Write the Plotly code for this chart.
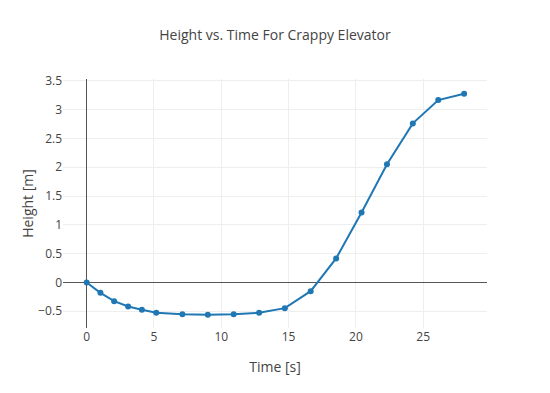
import plotly.graph_objects as go

time_s = [0, 1.02, 2.04, 3.08, 4.1, 5.17, 7.11, 9.0, 10.92, 12.81, 14.72, 16.64, 18.53, 20.42, 22.31, 24.23, 26.12, 28.04]
height_m = [0, -0.18, -0.325, -0.417, -0.475, -0.527, -0.55, -0.562, -0.55, -0.527, -0.446, -0.151, 0.417, 1.215, 2.05, 2.76, 3.165, 3.275]

fig = go.Figure(go.Scatter(
    x=time_s, y=height_m, mode="lines+markers",
    line=dict(color="#1f77b4", width=2),
    marker=dict(color="#1f77b4", size=6),
))

fig.update_layout(
    width=550, height=393,
    title=dict(text="Height vs. Time For Crappy Elevator", x=0.5, xanchor="center", y=0.91, yanchor="middle",
               font=dict(size=14, color="#444")),
    font=dict(family="Open Sans", size=12, color="#444"),
    margin=dict(l=63, r=63, t=79, b=65, autoexpand=False),
    plot_bgcolor="white", paper_bgcolor="white",
    showlegend=False,
    xaxis=dict(title=dict(text="Time [s]", standoff=18), range=[-1.76, 29.74], tickvals=[0, 5, 10, 15, 20, 25],
               showgrid=True, gridcolor="#eee", zeroline=True, zerolinecolor="#555", zerolinewidth=1,
               showline=False, ticks="", automargin=False),
    yaxis=dict(title=dict(text="Height [m]", standoff=1), range=[-0.79, 3.53], dtick=0.5,
               showgrid=True, gridcolor="#eee", zeroline=True, zerolinecolor="#555", zerolinewidth=1,
               showline=False, ticks="", automargin=False),
)

fig.write_html("out.html", config={"responsive": False, "displayModeBar": False},
               post_script="document.body.style.margin='0';")
